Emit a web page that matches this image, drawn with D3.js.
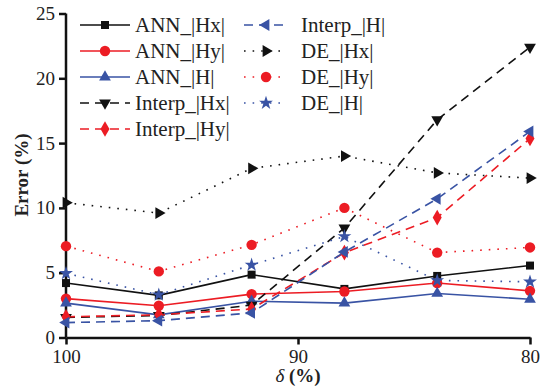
<!DOCTYPE html>
<html><head><meta charset="utf-8">
<script src="https://cdn.jsdelivr.net/npm/d3@7"></script>
<style>body{margin:0;background:#fff}svg{display:block}</style>
</head><body>
<svg id="c" width="540" height="391"></svg>
<script>
const xValues = [100, 96, 92, 88, 84, 80];
const annHx = [4.2, 3.25, 4.85, 3.75, 4.75, 5.55];
const annHy = [3.0, 2.45, 3.35, 3.55, 4.2, 3.6];
const annH = [2.65, 1.75, 2.8, 2.65, 3.4, 2.95];
const interpHx = [1.55, 1.7, 2.5, 8.45, 16.8, 22.4];
const interpHy = [1.6, 1.75, 2.2, 6.55, 9.25, 15.35];
const interpH = [1.15, 1.3, 1.9, 6.6, 10.7, 15.9];
const deHx = [10.4, 9.6, 13.05, 14.0, 12.7, 12.3];
const deHy = [7.05, 5.1, 7.15, 10.0, 6.55, 6.95];
const deH = [4.95, 3.3, 5.6, 7.8, 4.4, 4.3];
const xTicks = [100, 90, 80];
const yTicks = [0, 5, 10, 15, 20, 25];

const BLACK = "#111", RED = "#ec1c24", BLUE = "#3953a4";
const series = [
  {name: "ANN_|Hx|", vals: annHx, color: BLACK, dash: null, sym: "square"},
  {name: "ANN_|Hy|", vals: annHy, color: RED, dash: null, sym: "circle"},
  {name: "ANN_|H|", vals: annH, color: BLUE, dash: null, sym: "up"},
  {name: "Interp_|Hx|", vals: interpHx, color: BLACK, dash: "9,6", sym: "down"},
  {name: "Interp_|Hy|", vals: interpHy, color: RED, dash: "9,6", sym: "diamond"},
  {name: "Interp_|H|", vals: interpH, color: BLUE, dash: "9,6", sym: "left"},
  {name: "DE_|Hx|", vals: deHx, color: BLACK, dash: "1.6,7", sym: "right"},
  {name: "DE_|Hy|", vals: deHy, color: RED, dash: "1.6,7", sym: "circle"},
  {name: "DE_|H|", vals: deH, color: BLUE, dash: "1.6,7", sym: "star"}
];

const svg = d3.select("#c");
const x = d3.scaleLinear().domain([100, 80]).range([66, 530]);
const y = d3.scaleLinear().domain([0, 25]).range([337.5, 13.5]);

function symPath(s) {
  let t, size, rot = 0;
  switch (s) {
    case "square": t = d3.symbolSquare; size = 64; break;
    case "circle": t = d3.symbolCircle; size = 85; break;
    case "up": t = d3.symbolTriangle; size = 60; break;
    case "down": t = d3.symbolTriangle; size = 60; rot = 180; break;
    case "left": t = d3.symbolTriangle; size = 60; rot = -90; break;
    case "right": t = d3.symbolTriangle; size = 60; rot = 90; break;
    case "diamond": t = d3.symbolDiamond; size = 70; break;
    case "star": t = d3.symbolStar; size = 60; break;
  }
  return {d: d3.symbol().type(t).size(size)(), rot};
}

// axes
const fontFam = "'Liberation Serif','Times New Roman',serif";
const gx = svg.append("g").attr("transform", "translate(0,337.5)")
  .call(d3.axisBottom(x).tickValues(xTicks).tickSize(7).tickSizeOuter(0).tickPadding(5));
const gy = svg.append("g").attr("transform", "translate(66,0)")
  .call(d3.axisLeft(y).tickValues(yTicks).tickSize(7).tickSizeOuter(0).tickPadding(4));
[gx, gy].forEach(g => {
  g.select(".domain").attr("stroke", "#111").attr("stroke-width", 2.5);
  g.selectAll(".tick line").attr("stroke", "#111").attr("stroke-width", 2.5);
  g.selectAll(".tick text").attr("font-family", fontFam).attr("font-size", 19).attr("fill", "#222");
});
gy.select(".domain").attr("d", "M0,13.5V337.5");

// lines & markers
const line = d3.line().x((d, i) => x(xValues[i])).y(d => y(d));
const plot = svg.append("g");
series.forEach(s => {
  plot.append("path").attr("d", line(s.vals)).attr("fill", "none")
    .attr("stroke", s.color).attr("stroke-width", 1.6)
    .attr("stroke-dasharray", s.dash);
});
series.forEach(s => {
  const p = symPath(s.sym);
  plot.selectAll(null).data(s.vals).enter().append("path")
    .attr("d", p.d).attr("fill", s.color)
    .attr("transform", (d, i) => `translate(${x(xValues[i])},${y(d)}) rotate(${p.rot})`);
});

// legend
const legend = svg.append("g");
series.forEach((s, i) => {
  const col = i < 5 ? 0 : 1;
  const row = i < 5 ? i : i - 5;
  const ly = 25 + row * 26;
  const x0 = col === 0 ? 80 : 244, x1 = col === 0 ? 130 : 285;
  const mx = col === 0 ? 105 : 266;
  const tx = col === 0 ? 135 : 301;
  legend.append("line").attr("x1", x0).attr("x2", x1).attr("y1", ly).attr("y2", ly)
    .attr("stroke", s.color).attr("stroke-width", 1.6).attr("stroke-dasharray", s.dash);
  const p = symPath(s.sym);
  legend.append("path").attr("d", p.d).attr("fill", s.color)
    .attr("transform", `translate(${mx},${ly}) rotate(${p.rot})`);
  legend.append("text").attr("x", tx).attr("y", ly + 7)
    .attr("font-family", fontFam).attr("font-size", 21).attr("fill", "#222").text(s.name);
});

// axis titles
svg.append("text").attr("transform", "translate(28,175) rotate(-90)")
  .attr("text-anchor", "middle").attr("font-family", fontFam).attr("font-size", 19)
  .attr("font-weight", "bold").attr("fill", "#222").text("Error (%)");
const xt = svg.append("text").attr("x", 298).attr("y", 382).attr("text-anchor", "middle")
  .attr("font-family", fontFam).attr("font-size", 19).attr("fill", "#222");
xt.append("tspan").attr("font-style", "italic").text("δ");
xt.append("tspan").attr("font-weight", "bold").text(" (%)");
</script>
</body></html>
